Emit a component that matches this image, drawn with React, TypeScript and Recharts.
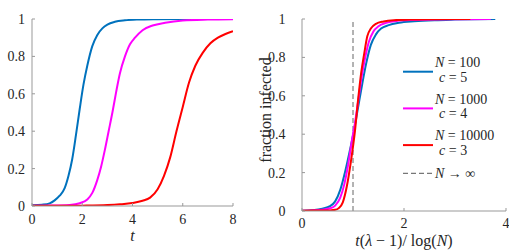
import React from 'react';
import { LineChart, Line, XAxis, YAxis, ReferenceLine, Legend } from 'recharts';

// left panel: fraction infected against t
const leftBlueT = [0, 0.4, 0.7, 0.9, 1.1, 1.3, 1.45, 1.6, 1.75, 1.9, 2.05, 2.2, 2.4, 2.6, 2.8, 3.0, 3.3, 3.7, 4.2, 5.0, 6.0, 6.6];
const leftBlueY = [0.004, 0.007, 0.014, 0.03, 0.055, 0.095, 0.16, 0.25, 0.38, 0.52, 0.65, 0.75, 0.855, 0.915, 0.95, 0.97, 0.985, 0.993, 0.997, 0.999, 1.0, 1.0];

const leftMagentaT = [0, 0.8, 1.5, 1.9, 2.2, 2.4, 2.6, 2.75, 2.9, 3.05, 3.2, 3.35, 3.5, 3.7, 3.9, 4.1, 4.4, 4.8, 5.3, 6.0, 7.0, 8.0];
const leftMagentaY = [0.002, 0.003, 0.006, 0.015, 0.035, 0.07, 0.14, 0.21, 0.3, 0.4, 0.5, 0.61, 0.71, 0.8, 0.865, 0.9, 0.94, 0.965, 0.98, 0.992, 0.997, 0.999];

const leftRedT = [0, 1, 2, 3, 3.5, 4.0, 4.4, 4.7, 5.0, 5.25, 5.5, 5.75, 6.0, 6.25, 6.5, 6.8, 7.1, 7.4, 7.7, 8.0];
const leftRedY = [0.001, 0.001, 0.002, 0.005, 0.009, 0.016, 0.028, 0.045, 0.09, 0.16, 0.26, 0.4, 0.53, 0.66, 0.75, 0.82, 0.87, 0.9, 0.92, 0.935];

// right panel: rescaled time t(λ-1)/log(N)
const rightBlueT = [0, 0.2, 0.4, 0.55, 0.65, 0.75, 0.85, 0.95, 1.02, 1.1, 1.18, 1.26, 1.35, 1.45, 1.55, 1.7, 1.9, 2.2, 2.6, 3.0, 3.4, 3.79];
const rightBlueY = [0.001, 0.004, 0.012, 0.025, 0.05, 0.11, 0.21, 0.33, 0.42, 0.54, 0.66, 0.77, 0.865, 0.92, 0.95, 0.968, 0.98, 0.988, 0.994, 0.997, 0.999, 1.0];

const rightMagentaT = [0, 0.2, 0.4, 0.55, 0.65, 0.75, 0.83, 0.91, 0.98, 1.04, 1.1, 1.17, 1.24, 1.31, 1.4, 1.5, 1.65, 1.85, 2.2, 2.6, 3.1, 3.7];
const rightMagentaY = [0.001, 0.003, 0.007, 0.014, 0.028, 0.07, 0.14, 0.25, 0.37, 0.46, 0.57, 0.7, 0.8, 0.88, 0.935, 0.962, 0.98, 0.99, 0.995, 0.998, 0.999, 1.0];

const rightRedT = [0, 0.2, 0.4, 0.55, 0.65, 0.72, 0.8, 0.88, 0.96, 1.04, 1.1, 1.16, 1.22, 1.28, 1.35, 1.45, 1.6, 1.8, 2.1, 2.5, 3.0, 3.3];
const rightRedY = [0.001, 0.002, 0.002, 0.003, 0.006, 0.015, 0.045, 0.13, 0.26, 0.42, 0.58, 0.72, 0.82, 0.91, 0.95, 0.975, 0.987, 0.994, 0.997, 0.999, 1.0, 1.0];

const limitX = 1;

const leftXTicks = [0, 2, 4, 6, 8];
const rightXTicks = [0, 2, 4];
const yTicks = [0, 0.2, 0.4, 0.6, 0.8, 1];

const legendN = ['100', '1000', '10000'];
const legendC = ['5', '4', '3'];

const BLUE = '#0072BD';
const MAGENTA = '#FF00FF';
const RED = '#FF0000';
const COLORS = [BLUE, MAGENTA, RED];
const AXIS = '#999999';
const FONT = "'Liberation Serif', 'DejaVu Serif', serif";
const INK = '#262626';
const tickStyle = { fontFamily: FONT, fontSize: 14, fill: INK, style: { fontFamily: FONT } };

const toPoints = (xs: number[], ys: number[]) => xs.map((x, i) => ({ x, y: ys[i] }));

const LeftXLabel = (props: any) => {
  const { x, y, width } = props.viewBox;
  return (
    <text x={x + width / 2} y={y + 35} textAnchor="middle" style={{ fontFamily: FONT, fontSize: 16, fontStyle: 'italic' }} fill={INK}>
      t
    </text>
  );
};

const RightXLabel = (props: any) => {
  const { x, y, width } = props.viewBox;
  return (
    <text x={x + width / 2} y={y + 35} textAnchor="middle" style={{ fontFamily: FONT, fontSize: 16 }} fill={INK}>
      <tspan fontStyle="italic">t</tspan>(<tspan fontStyle="italic">λ</tspan> − 1)/ log(<tspan fontStyle="italic">N</tspan>)
    </text>
  );
};

const RightYLabel = (props: any) => {
  const { x, y, height } = props.viewBox;
  const cx = x + 13;
  const cy = y + height / 2 - 5;
  return (
    <text x={cx} y={cy} transform={`rotate(-90 ${cx} ${cy})`} textAnchor="middle" dominantBaseline="central"
      style={{ fontFamily: FONT, fontSize: 16 }} fill={INK}>
      fraction infected
    </text>
  );
};

const RightLegend = () => (
  <svg width={110} height={135} style={{ display: 'block', overflow: 'visible', fontFamily: FONT, fontSize: 14 }}>
    {legendN.map((n, i) => {
      const top = i * 36.7;
      return (
        <g key={n} fill={INK}>
          <line x1={3} x2={33} y1={top + 19.7} y2={top + 19.7} stroke={COLORS[i]} strokeWidth={2} />
          <text x={35} y={top + 15}>
            <tspan fontStyle="italic">N</tspan> = {n}
          </text>
          <text x={39} y={top + 29.5}>
            <tspan fontStyle="italic">c</tspan> = {legendC[i]}
          </text>
        </g>
      );
    })}
    <line x1={3} x2={33} y1={121.3} y2={121.3} stroke="#555" strokeWidth={1} strokeDasharray="5 3" />
    <text x={35} y={126} fill={INK}>
      <tspan fontStyle="italic">N</tspan> → ∞
    </text>
  </svg>
);

export default function App() {
  return (
    <div style={{ position: 'absolute', left: 0, top: 0, width: 509, height: 251, overflow: 'hidden', background: '#fff', fontFamily: FONT }}>
      <div style={{ position: 'absolute', left: 0, top: 0 }}>
        <LineChart width={250} height={251} margin={{ top: 19, right: 17, bottom: 9, left: 2 }} style={{ fontFamily: FONT }}>
          <XAxis type="number" dataKey="x" domain={[0, 8]} ticks={leftXTicks} interval={0} height={36}
            stroke={AXIS} tick={tickStyle} tickSize={-3} tickMargin={11} allowDataOverflow label={<LeftXLabel />} />
          <XAxis xAxisId="top" orientation="top" type="number" dataKey="x" domain={[0, 8]} ticks={leftXTicks} interval={0}
            height={0} stroke={AXIS} tick={false} tickSize={-3} allowDataOverflow />
          <YAxis type="number" domain={[0, 1]} ticks={yTicks} interval={0} width={30}
            stroke={AXIS} tick={tickStyle} tickSize={-3} tickMargin={10} allowDataOverflow />
          <YAxis yAxisId="right" orientation="right" type="number" domain={[0, 1]} ticks={yTicks} interval={0}
            width={0} stroke={AXIS} tick={false} tickSize={-3} allowDataOverflow />
          <Line data={toPoints(leftBlueT, leftBlueY)} dataKey="y" type="monotone" stroke={BLUE} strokeWidth={2} dot={false} isAnimationActive={false} />
          <Line data={toPoints(leftMagentaT, leftMagentaY)} dataKey="y" type="monotone" stroke={MAGENTA} strokeWidth={2} dot={false} isAnimationActive={false} />
          <Line data={toPoints(leftRedT, leftRedY)} dataKey="y" type="monotone" stroke={RED} strokeWidth={2} dot={false} isAnimationActive={false} />
        </LineChart>
      </div>
      <div style={{ position: 'absolute', left: 250, top: 0 }}>
        <LineChart width={259} height={251} margin={{ top: 19, right: 3, bottom: 0, left: 2 }} style={{ fontFamily: FONT }}>
          <XAxis type="number" dataKey="x" domain={[0, 4]} ticks={rightXTicks} interval={0} height={40}
            stroke={AXIS} tick={tickStyle} tickSize={-3} tickMargin={10.4} allowDataOverflow label={<RightXLabel />} />
          <XAxis xAxisId="top" orientation="top" type="number" dataKey="x" domain={[0, 4]} ticks={rightXTicks} interval={0}
            height={0} stroke={AXIS} tick={false} tickSize={-3} allowDataOverflow />
          <YAxis type="number" domain={[0, 1]} ticks={yTicks} interval={0} width={50}
            stroke={AXIS} tick={tickStyle} tickSize={-3} tickMargin={19.6} allowDataOverflow label={<RightYLabel />} />
          <YAxis yAxisId="right" orientation="right" type="number" domain={[0, 1]} ticks={yTicks} interval={0}
            width={0} stroke={AXIS} tick={false} tickSize={-3} allowDataOverflow />
          <ReferenceLine x={limitX} stroke="#666" strokeDasharray="5 3" strokeWidth={1} />
          <Line data={toPoints(rightBlueT, rightBlueY)} dataKey="y" type="monotone" stroke={BLUE} strokeWidth={2} dot={false} isAnimationActive={false} />
          <Line data={toPoints(rightMagentaT, rightMagentaY)} dataKey="y" type="monotone" stroke={MAGENTA} strokeWidth={2} dot={false} isAnimationActive={false} />
          <Line data={toPoints(rightRedT, rightRedY)} dataKey="y" type="monotone" stroke={RED} strokeWidth={2} dot={false} isAnimationActive={false} />
          <Legend verticalAlign="middle" align="center" layout="horizontal"
            wrapperStyle={{ position: 'absolute', left: 150, top: 52, width: 110, height: 135 }}
            content={() => <RightLegend />} />
        </LineChart>
      </div>
    </div>
  );
}
